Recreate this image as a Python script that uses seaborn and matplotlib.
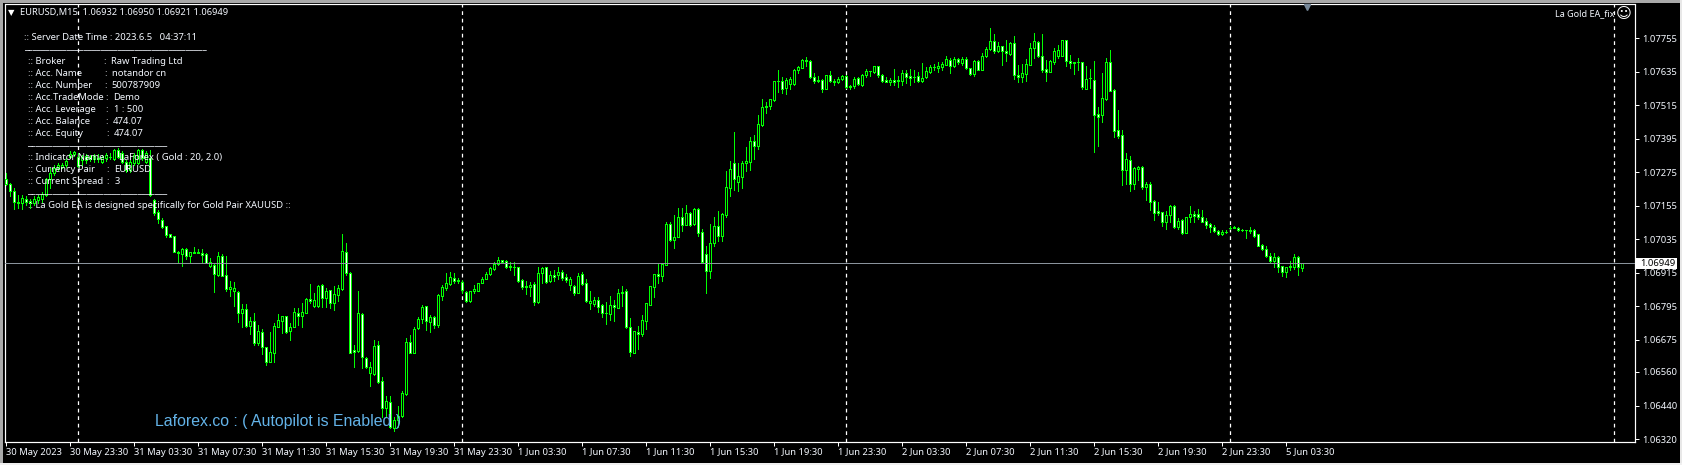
import matplotlib
matplotlib.use('Agg')
import matplotlib.pyplot as plt
from matplotlib.patches import Rectangle
import numpy as np
import pandas as pd
import seaborn as sns

# prices in 1e-5 units, one M15 bar per entry
opens = [
    107250,107233,107208,107164,107164,107178,107172,107166,107176,107179,
    107194,107250,107271,107289,107295,107301,107331,107340,107331,107319,
    107333,107331,107321,107321,107313,107325,107331,107321,107355,107343,
    107313,107283,107307,107307,107355,107313,107325,107176,107134,107104,
    107083,107053,107047,106984,106982,107000,106975,106984,106990,106985,
    106982,106941,106943,106907,106975,106907,106857,106848,106845,106771,
    106784,106725,106743,106663,106703,106650,106597,106629,106722,106744,
    106759,106708,106722,106770,106761,106772,106820,106797,106797,106870,
    106823,106852,106808,106837,106856,106988,106913,106638,106636,106766,
    106611,106555,106552,106656,106527,106432,106452,106358,106388,106403,
    106480,106666,106629,106716,106750,106795,106739,106757,106728,106833,
    106861,106875,106898,106889,106882,106845,106813,106849,106851,106880,
    106893,106910,106930,106945,106959,106957,106941,106936,106935,106888,
    106868,106864,106874,106812,106913,106935,106885,106907,106906,106919,
    106899,106871,106869,106844,106911,106877,106806,106803,106817,106799,
    106772,106768,106799,106790,106845,106849,106722,106629,106702,106695,
    106744,106800,106865,106910,106905,106944,107089,107034,107044,107116,
    107087,107128,107090,107142,107060,106981,106923,107021,107081,107048,
    107123,107220,107307,107241,107259,107307,107313,107386,107367,107445,
    107507,107510,107534,107600,107600,107577,107590,107589,107639,107649,
    107677,107672,107617,107602,107604,107574,107621,107603,107596,107608,
    107618,107584,107584,107611,107588,107622,107636,107635,107654,107624,
    107604,107598,107604,107600,107603,107629,107619,107616,107618,107602,
    107615,107635,107652,107649,107653,107660,107678,107656,107679,107667,
    107679,107647,107628,107672,107640,107689,107715,107746,107708,107726,
    107707,107698,107739,107622,107617,107628,107660,107719,107740,107690,
    107643,107635,107671,107692,107692,107747,107672,107668,107668,107668,
    107574,107611,107604,107482,107478,107536,107668,107569,107425,107407,
    107284,107318,107234,107288,107293,107223,107233,107171,107135,107132,
    107098,107120,107154,107077,107103,107059,107113,107124,107124,107114,
    107099,107089,107078,107064,107053,107060,107075,107077,107076,107068,
    107067,107066,107069,107052,107013,106999,106976,106957,106970,106938,
    106916,106934,106936,106970,106932,
]
highs = [
    107271,107235,107217,107194,107194,107188,107178,107188,107194,107205,
    107253,107289,107301,107307,107307,107325,107349,107351,107343,107337,
    107340,107337,107340,107340,107337,107343,107343,107358,107361,107349,
    107319,107319,107343,107358,107358,107349,107355,107178,107140,107110,
    107083,107053,107047,106994,107004,107004,106991,107006,106999,106999,
    106985,106967,106945,106988,106982,106975,106887,106883,106848,106803,
    106803,106755,106771,106728,106713,106651,106704,106734,106766,106762,
    106762,106734,106788,106788,106806,106824,106875,106842,106871,106874,
    106860,106854,106869,106871,107054,107023,106917,106657,106850,106770,
    106615,106597,106675,106672,106543,106474,106474,106400,106438,106492,
    106681,106693,106720,106758,106800,106797,106764,106761,106839,106871,
    106913,106919,106913,106897,106889,106848,106851,106871,106880,106901,
    106919,106937,106955,106973,106961,106961,106955,106953,106937,106892,
    106886,106883,106883,106937,106936,106937,106922,106925,106937,106925,
    106911,106899,106871,106913,106917,106892,106850,106827,106827,106802,
    106809,106832,106818,106856,106868,106857,106752,106707,106725,106764,
    106808,106869,106911,106945,106949,107096,107096,107121,107146,107146,
    107157,107134,107146,107145,107071,107011,107089,107114,107135,107130,
    107279,107315,107418,107307,107315,107365,107400,107407,107480,107536,
    107525,107538,107601,107641,107617,107611,107615,107643,107655,107679,
    107687,107675,107629,107619,107608,107623,107637,107608,107615,107623,
    107623,107587,107615,107615,107625,107645,107637,107655,107656,107627,
    107617,107611,107643,107619,107641,107641,107643,107641,107635,107665,
    107653,107659,107661,107671,107671,107691,107683,107686,107684,107686,
    107686,107649,107675,107675,107703,107722,107790,107770,107742,107727,
    107748,107741,107763,107659,107662,107679,107736,107772,107744,107770,
    107677,107677,107719,107730,107748,107748,107693,107668,107685,107669,
    107655,107645,107672,107507,107629,107684,107713,107572,107498,107426,
    107343,107333,107295,107297,107297,107241,107239,107174,107169,107134,
    107136,107158,107157,107110,107108,107116,107154,107137,107142,107140,
    107110,107092,107085,107068,107068,107068,107083,107083,107078,107072,
    107069,107078,107072,107053,107018,107011,106985,106985,106974,106941,
    106937,106956,106982,106975,106950,
]
lows = [
    107229,107188,107142,107146,107142,107158,107146,107158,107164,107170,
    107190,107217,107265,107283,107289,107295,107325,107333,107295,107301,
    107307,107315,107313,107313,107307,107315,107321,107319,107325,107307,
    107277,107277,107301,107304,107319,107307,107190,107122,107092,107074,
    107042,107042,106988,106949,106941,106963,106949,106984,106984,106949,
    106949,106937,106846,106904,106904,106851,106832,106796,106740,106720,
    106722,106696,106657,106657,106623,106585,106595,106597,106720,106701,
    106701,106675,106720,106728,106722,106770,106806,106792,106792,106792,
    106794,106788,106782,106815,106854,106907,106627,106579,106633,106573,
    106573,106511,106549,106522,106400,106400,106358,106350,106364,106400,
    106478,106627,106627,106713,106734,106710,106704,106716,106720,106818,
    106854,106871,106877,106877,106842,106812,106812,106844,106850,106877,
    106892,106907,106925,106943,106953,106931,106925,106907,106883,106856,
    106839,106832,106800,106808,106880,106877,106882,106887,106893,106889,
    106883,106854,106836,106842,106871,106812,106787,106796,106775,106758,
    106732,106746,106744,106788,106796,106719,106617,106627,106642,106687,
    106713,106800,106830,106877,106887,106942,107027,107005,107042,107066,
    107086,107084,107086,107047,106951,106844,106898,107009,107030,107030,
    107116,107190,107211,107208,107217,107279,107281,107322,107358,107441,
    107486,107500,107530,107563,107557,107555,107573,107587,107629,107647,
    107655,107612,107593,107599,107563,107572,107598,107587,107593,107605,
    107575,107574,107577,107587,107584,107617,107619,107631,107615,107598,
    107596,107587,107587,107581,107587,107593,107587,107596,107596,107598,
    107611,107631,107639,107635,107639,107658,107631,107653,107662,107659,
    107643,107623,107619,107639,107639,107686,107713,107701,107704,107659,
    107674,107695,107609,107599,107599,107602,107658,107683,107686,107635,
    107602,107633,107662,107683,107691,107656,107647,107627,107641,107573,
    107573,107575,107347,107367,107456,107534,107565,107402,107398,107229,
    107233,107208,107215,107247,107215,107176,107140,107104,107122,107083,
    107072,107098,107074,107072,107055,107058,107098,107098,107108,107095,
    107074,107061,107060,107050,107050,107056,107073,107074,107065,107063,
    107040,107056,107044,107011,106997,106973,106954,106937,106916,106905,
    106901,106925,106930,106907,106921,
]
closes = [
    107232,107208,107167,107170,107182,107170,107166,107178,107185,107196,
    107250,107271,107289,107301,107301,107315,107340,107346,107297,107331,
    107319,107321,107333,107327,107331,107337,107329,107355,107331,107313,
    107283,107313,107337,107355,107325,107343,107194,107130,107108,107080,
    107050,107044,106991,106991,107000,106975,106990,106990,106984,106980,
    106949,106953,106912,106975,106905,106857,106864,106860,106772,106784,
    106725,106743,106663,106706,106648,106597,106630,106725,106746,106759,
    106704,106721,106774,106762,106774,106821,106815,106817,106868,106824,
    106849,106808,106839,106860,106992,106913,106629,106633,106770,106613,
    106576,106576,106653,106525,106432,106455,106362,106388,106403,106484,
    106666,106629,106714,106750,106794,106741,106756,106729,106834,106863,
    106877,106900,106885,106887,106854,106813,106849,106857,106877,106894,
    106910,106931,106945,106959,106955,106936,106935,106936,106887,106865,
    106864,106873,106812,106913,106932,106882,106906,106901,106916,106895,
    106889,106892,106844,106905,106874,106815,106815,106817,106794,106772,
    106770,106799,106792,106842,106841,106721,106630,106706,106695,106745,
    106806,106867,106910,106905,106945,107089,107033,107042,107116,107087,
    107128,107086,107142,107059,106955,106923,107021,107081,107048,107126,
    107221,107285,107250,107260,107307,107314,107386,107370,107446,107507,
    107512,107536,107600,107600,107574,107605,107608,107641,107650,107676,
    107672,107616,107602,107604,107574,107622,107600,107597,107608,107619,
    107581,107579,107610,107592,107622,107637,107636,107654,107621,107603,
    107598,107606,107596,107604,107629,107617,107613,107616,107600,107613,
    107637,107650,107652,107655,107662,107679,107656,107679,107668,107679,
    107646,107628,107672,107641,107691,107715,107746,107708,107726,107707,
    107701,107739,107622,107617,107629,107661,107719,107744,107689,107642,
    107635,107672,107708,107711,107747,107672,107664,107665,107668,107578,
    107610,107611,107478,107474,107540,107668,107567,107421,107406,107281,
    107321,107231,107289,107293,107223,107233,107170,107130,107128,107098,
    107121,107154,107077,107099,107059,107114,107124,107119,107113,107098,
    107087,107078,107064,107053,107060,107061,107076,107076,107067,107067,
    107067,107068,107048,107012,106999,106976,106956,106970,106937,106916,
    106935,106938,106970,106934,106949,
]
time_labels = ["30 May 2023", "30 May 23:30", "31 May 03:30", "31 May 07:30", "31 May 11:30",
               "31 May 15:30", "31 May 19:30", "31 May 23:30", "1 Jun 03:30", "1 Jun 07:30",
               "1 Jun 11:30", "1 Jun 15:30", "1 Jun 19:30", "1 Jun 23:30", "2 Jun 03:30",
               "2 Jun 07:30", "2 Jun 11:30", "2 Jun 15:30", "2 Jun 19:30", "2 Jun 23:30",
               "5 Jun 03:30"]
price_ticks = [1.07755, 1.07635, 1.07515, 1.07395, 1.07275, 1.07155, 1.07035,
               1.06915, 1.06795, 1.06675, 1.06560, 1.06440, 1.06320]
separators = [18, 114, 210, 306, 402]
last_price = 1.06949

W, H = 1682, 465
LIME = '#00ff00'
TXT = '#f4f8ff'
PX = 0.72  # one pixel in points

sns.set_style('dark', {'axes.facecolor': 'black', 'figure.facecolor': 'black',
                       'axes.edgecolor': 'white', 'xtick.color': 'white', 'ytick.color': 'white',
                       'axes.grid': False, 'xtick.bottom': True, 'ytick.right': True})
plt.rcParams['font.family'] = ['Noto Sans', 'DejaVu Sans']

df = pd.DataFrame({'bar': np.arange(len(opens)), 'open': opens, 'high': highs,
                   'low': lows, 'close': closes})
for c in ['open', 'high', 'low', 'close']:
    df[c] = df[c] / 1e5
wicks = df.melt(id_vars='bar', value_vars=['low', 'high'], value_name='price')

fig = plt.figure(figsize=(W / 100, H / 100), dpi=100)
ax = fig.add_axes([4.5 / W, 1 - 442 / H, 1630 / W, 437.5 / H])

sns.lineplot(data=wicks, x='bar', y='price', units='bar', estimator=None, color=LIME,
             lw=PX, antialiased=False, zorder=3, ax=ax, legend=False)
for line in ax.get_lines():
    line.set_snap(True)
    line.set_solid_capstyle('butt')

body_low = df[['open', 'close']].min(axis=1)
body_high = df[['open', 'close']].max(axis=1)
faces = np.where(df['close'] < df['open'], 'white', 'black')
bars = ax.bar(df['bar'], body_high - body_low, bottom=body_low, width=0.5, color=faces,
              edgecolor=LIME, linewidth=PX, antialiased=False, zorder=4)
for b in bars:
    b.set_snap(True)

for s in separators:
    ax.axvline(s, color='white', lw=0.9, ls=(0, (3, 3)), zorder=2)
ax.axhline(last_price, color='#8a939c', lw=PX, snap=True, zorder=5)

ax.set_xlim(-0.25, 407.25)
ax.set_ylim(1.063094, 1.07875)
ax.set_xticks(np.arange(len(time_labels)) * 16)
ax.set_xticklabels(time_labels, ha='left', fontsize=6.8, color=TXT)
for lab in ax.get_xticklabels():
    lab.set_x(lab.get_position()[0])
ax.tick_params(axis='x', length=3, width=PX, pad=1)
ax.yaxis.tick_right()
ax.set_yticks(price_ticks)
ax.set_yticklabels([f'{p:.5f}' for p in price_ticks], fontsize=6.8, color=TXT)
ax.tick_params(axis='y', length=3, width=PX, pad=2.5)
ax.set_xlabel('')
ax.set_ylabel('')
for sp in ax.spines.values():
    sp.set_color('white')
    sp.set_linewidth(PX * 1.2)

ax.plot([325.25], [1.07867], marker='v', ms=5, color='#778899', clip_on=False, zorder=6)


def put(x, y, s, **kw):
    kw.setdefault('fontsize', 6.8)
    kw.setdefault('color', TXT)
    return fig.text(x / W, 1 - y / H, s, va='center', ha=kw.pop('ha', 'left'), zorder=10, **kw)


put(7.5, 12.5, '\u25bc', fontsize=6, color='white')
put(20, 12.5, 'EURUSD,M15  1.06932 1.06950 1.06921 1.06949', fontsize=6.7)

put(24.5, 37.5, ':: Server Date Time : 2023.6.5   04:37:11')
put(24.5, 46.5, '_' * 43)
rows = [(61.5, ':: Broker', 103, 111, 'Raw Trading Ltd'),
        (73.5, ':: Acc. Name', 104, 112, 'notandor cn'),
        (85.5, ':: Acc. Number', 104, 111, '500787909'),
        (97.5, ':: Acc.TradeMode', 105, 113.5, 'Demo'),
        (109.5, ':: Acc. Leverage', 105.5, 113.5, '1 : 500'),
        (121.5, ':: Acc. Balance', 105.5, 112.7, '474.07'),
        (133.5, ':: Acc. Equity', 106, 114, '474.07'),
        (157.5, ':: Indicator Name', 105.5, 119, 'LaForex ( Gold : 20, 2.0)'),
        (169.5, ':: Currency Pair', 106, 114.3, 'EURUSD'),
        (181.5, ':: Current Spread', 106.7, 114.3, '3')]
for y, name, cx, vx, val in rows:
    put(27.5, y, name)
    put(cx, y, ':')
    put(vx, y, val)
put(27.5, 142.5, '_' * 33)
put(27.5, 190.5, '_' * 33)
put(27.5, 205.5, ':: La Gold EA is designed specifically for Gold Pair XAUUSD ::')

put(1555, 13.5, 'La Gold EA_fix', fontsize=6.5)
put(1624, 13.5, '\u263a', fontsize=11, color='white', ha='center', family='DejaVu Sans')
put(155, 421.5, 'Laforex.co : ( Autopilot is Enabled )', fontsize=11.4, color='#63b3e8',
    family='Liberation Sans')

# last price box on the scale
fig.add_artist(Rectangle((1636 / W, 1 - 268.5 / H), 41 / W, 10.5 / H, transform=fig.transFigure,
                         facecolor='white', edgecolor='none', zorder=9))
put(1640.5, 263.3, f'{last_price:.5f}', color='black')

# window frame
for x0, y0, w, h, col in [(0, 0, W, 3, '#a9a9a9'), (0, 0, 2.5, H, '#a9a9a9'),
                          (W - 2, 0, 2, H, '#e8e8e8'), (0, H - 2, W, 2, '#f0f0f0')]:
    fig.add_artist(Rectangle((x0 / W, 1 - (y0 + h) / H), w / W, h / H, transform=fig.transFigure,
                             facecolor=col, edgecolor='none', zorder=11))

fig.savefig('out.png', dpi=100, facecolor='black')
